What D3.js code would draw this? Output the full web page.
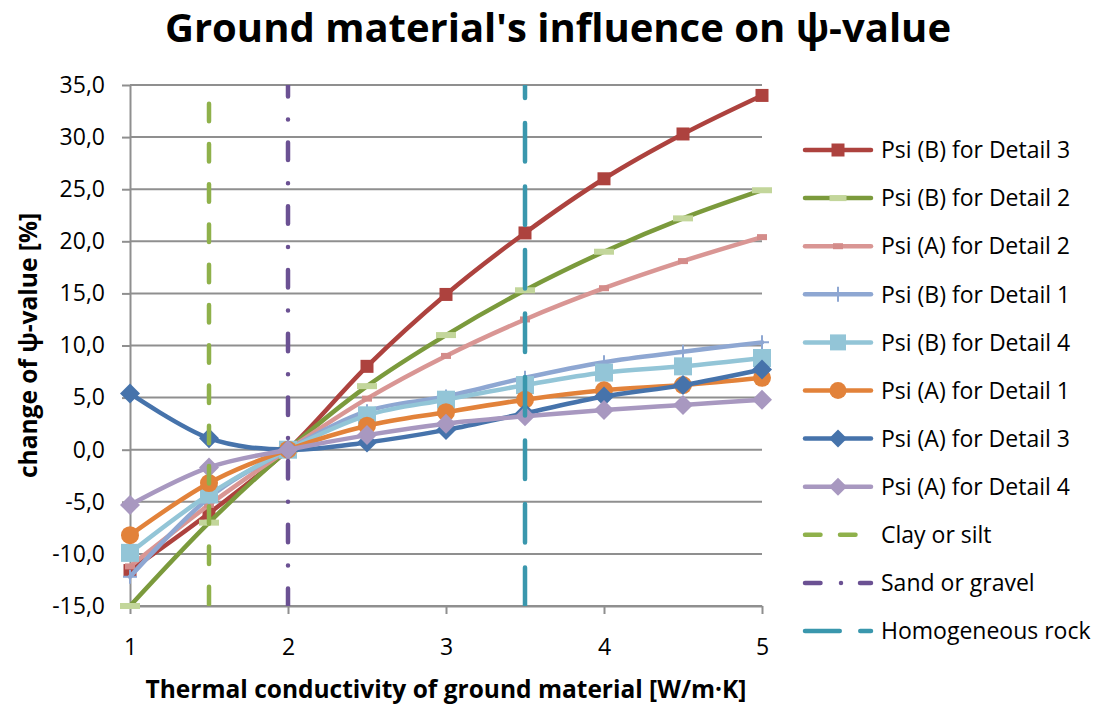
<!DOCTYPE html>
<html>
<head>
<meta charset="utf-8">
<script src="https://cdn.jsdelivr.net/npm/d3@7"></script>
<style>
  body { margin: 0; background: #ffffff; }
  svg { display: block; font-family: "Open Sans", Lato, sans-serif; }
</style>
</head>
<body>
<svg id="chart" width="1095" height="704"></svg>
<script>
// Thermal conductivity of the ground [W/m·K]
const conductivity = [1, 1.5, 2, 2.5, 3, 3.5, 4, 4.5, 5];

// Change of psi-value [%] relative to 2 W/m·K
const psiB3 = [-11.6, -6.1, 0, 8.0, 14.9, 20.8, 26.0, 30.3, 34.0];
const psiB2 = [-15.0, -7.0, 0, 6.1, 11.0, 15.3, 19.0, 22.2, 24.9];
const psiA2 = [-11.2, -5.3, 0, 4.9, 9.0, 12.5, 15.5, 18.1, 20.4];
const psiB1 = [-12.2, -4.6, 0, 3.7, 5.1, 6.9, 8.4, 9.4, 10.3];
const psiB4 = [-9.9, -4.3, 0, 3.3, 4.8, 6.2, 7.4, 8.0, 8.8];
const psiA1 = [-8.2, -3.2, 0, 2.3, 3.6, 4.8, 5.7, 6.2, 6.9];
const psiA3 = [5.4, 1.1, 0, 0.7, 1.9, 3.5, 5.1, 6.2, 7.7];
const psiA4 = [-5.3, -1.7, 0, 1.4, 2.5, 3.2, 3.8, 4.3, 4.8];

// Typical conductivity of ground materials (vertical markers)
const clayX = [1.5, 1.5];
const clayY = [33.2, -15];
const sandX = [2, 2];
const sandY = [-15, 35];
const rockX = [3.5, 3.5];
const rockY = [-15, 35];

const seriesNames = [
  "Psi (B) for Detail 3", "Psi (B) for Detail 2", "Psi (A) for Detail 2",
  "Psi (B) for Detail 1", "Psi (B) for Detail 4", "Psi (A) for Detail 1",
  "Psi (A) for Detail 3", "Psi (A) for Detail 4"
];
const materialNames = ["Clay or silt", "Sand or gravel", "Homogeneous rock"];

const yTickValues = [-15, -10, -5, 0, 5, 10, 15, 20, 25, 30, 35];
const xTickValues = [1, 2, 3, 4, 5];

const titleText = "Ground material's influence on \u03C8-value";
const xTitle = "Thermal conductivity of ground material [W/m\u00B7K]";
const yTitle = "change of \u03C8-value [%]";

// ---- styling ----
const seriesStyles = [
  { color: "#ad423e", marker: "square", size: 13, fill: "#ad423e" },
  { color: "#7b9a3c", marker: "bar", w: 20, h: 6, fill: "#c3d69b" },
  { color: "#d99694", marker: "bar", w: 10, h: 6, fill: "#d48c8a" },
  { color: "#8ea7d2", marker: "plus", size: 14, fill: "#8ea7d2" },
  { color: "#93c5d7", marker: "square", size: 18, fill: "#93c5d7" },
  { color: "#e2823a", marker: "circle", size: 18, fill: "#e2823a" },
  { color: "#4673ab", marker: "diamond", size: 20, fill: "#4673ab" },
  { color: "#a898c0", marker: "diamond", size: 20, fill: "#a898c0" }
];
const seriesValues = [psiB3, psiB2, psiA2, psiB1, psiB4, psiA1, psiA3, psiA4];

const materials = [
  { name: materialNames[0], xs: clayX, ys: clayY, color: "#8fb14b", dash: "17.5 22.75", legendDash: "15.5 19.5" },
  { name: materialNames[1], xs: sandX, ys: sandY, color: "#6b5193", dash: "17.5 23.1 0 23.1", legendDash: "15.5 20.5 0 19" },
  { name: materialNames[2], xs: rockX, ys: rockY, color: "#3a97ad", dash: "38.5 25", legendDash: "34.75 20.5" }
];

const plot = { left: 130, right: 762, top: 85, bottom: 606 };
const gridColor = "#8f8f8f";
const lineWidth = 4.5;
const font = "'Open Sans', Lato, sans-serif";
const labelSize = 23;

const svg = d3.select("#chart");

const x = d3.scaleLinear().domain([1, 5]).range([plot.left, plot.right]);
const y = d3.scaleLinear().domain([-15, 35]).range([plot.bottom, plot.top]);

const locale = d3.formatLocale({ decimal: ",", thousands: ".", grouping: [3], currency: ["", ""], minus: "-" });
const yFmt = locale.format(".1f");

// ---- title ----
svg.append("text")
  .attr("x", 558).attr("y", 42)
  .attr("text-anchor", "middle")
  .attr("font-weight", "bold")
  .attr("font-size", 40)
  .attr("fill", "#000")
  .text(titleText);

// ---- gridlines ----
svg.append("g")
  .selectAll("line")
  .data(yTickValues)
  .join("line")
  .attr("x1", plot.left).attr("x2", plot.right)
  .attr("y1", d => y(d)).attr("y2", d => y(d))
  .attr("stroke", gridColor).attr("stroke-width", 2);

// ---- axes ----
const yAxis = svg.append("g")
  .attr("transform", `translate(${plot.left},0)`)
  .call(d3.axisLeft(y).tickValues(yTickValues).tickSize(8).tickSizeOuter(0).tickPadding(17).tickFormat(yFmt));
const xAxis = svg.append("g")
  .attr("transform", `translate(0,${plot.bottom})`)
  .call(d3.axisBottom(x).tickValues(xTickValues).tickSize(8).tickSizeOuter(0).tickPadding(25).tickFormat(d3.format("d")));

[yAxis, xAxis].forEach(ax => {
  ax.select(".domain").attr("stroke", gridColor).attr("stroke-width", 2);
  ax.selectAll(".tick line").attr("stroke", gridColor).attr("stroke-width", 2);
  ax.selectAll(".tick text")
    .attr("fill", "#000")
    .attr("font-family", font)
    .attr("font-size", labelSize);
});

// ---- axis titles ----
svg.append("text")
  .attr("x", (plot.left + plot.right) / 2).attr("y", 698)
  .attr("text-anchor", "middle")
  .attr("font-weight", "bold").attr("font-size", 24.5)
  .text(xTitle);

svg.append("text")
  .attr("transform", `translate(37,${(plot.top + plot.bottom) / 2}) rotate(-90)`)
  .attr("text-anchor", "middle")
  .attr("font-weight", "bold").attr("font-size", 24.5)
  .text(yTitle);

// ---- markers ----
function drawMarker(sel, st) {
  if (st.marker === "square") {
    sel.append("rect")
      .attr("x", -st.size / 2).attr("y", -st.size / 2)
      .attr("width", st.size).attr("height", st.size)
      .attr("fill", st.fill);
  } else if (st.marker === "bar") {
    sel.append("rect")
      .attr("x", -st.w / 2).attr("y", -st.h / 2)
      .attr("width", st.w).attr("height", st.h)
      .attr("fill", st.fill);
  } else if (st.marker === "plus") {
    sel.append("path")
      .attr("d", `M${-st.size / 2},0H${st.size / 2}M0,${-st.size / 2}V${st.size / 2}`)
      .attr("stroke", st.fill).attr("stroke-width", 2).attr("fill", "none");
  } else if (st.marker === "circle") {
    sel.append("circle").attr("r", st.size / 2).attr("fill", st.fill);
  } else if (st.marker === "diamond") {
    const h = st.size / 2;
    sel.append("path")
      .attr("d", `M0,${-h}L${h},0L0,${h}L${-h},0Z`)
      .attr("fill", st.fill);
  }
}

// ---- data series ----
const line = d3.line()
  .x(d => x(d[0]))
  .y(d => y(d[1]))
  .curve(d3.curveCardinal);

const seriesLayer = svg.append("g");
seriesValues.forEach((vals, i) => {
  const st = seriesStyles[i];
  const pts = conductivity.map((c, k) => [c, vals[k]]);
  const g = seriesLayer.append("g");
  g.append("path")
    .attr("d", line(pts))
    .attr("fill", "none")
    .attr("stroke", st.color)
    .attr("stroke-width", lineWidth)
    .attr("stroke-linecap", "round")
    .attr("stroke-linejoin", "round");
  g.selectAll("g.m")
    .data(pts)
    .join("g")
    .attr("class", "m")
    .attr("transform", d => `translate(${x(d[0])},${y(d[1])})`)
    .each(function () { drawMarker(d3.select(this), st); });
});

// ---- ground material markers ----
svg.append("defs").append("clipPath").attr("id", "plotClip")
  .append("rect")
  .attr("x", plot.left - 10).attr("y", plot.top)
  .attr("width", plot.right - plot.left + 20).attr("height", plot.bottom - plot.top);

const matLayer = svg.append("g").attr("clip-path", "url(#plotClip)");
const straight = d3.line().x(d => x(d[0])).y(d => y(d[1]));
materials.forEach(m => {
  matLayer.append("path")
    .attr("d", straight(m.xs.map((v, k) => [v, m.ys[k]])))
    .attr("fill", "none")
    .attr("stroke", m.color)
    .attr("stroke-width", lineWidth)
    .attr("stroke-linecap", "round")
    .attr("stroke-dasharray", m.dash);
});

// ---- legend ----
const legend = svg.append("g");
const legendTop = 150, legendStep = 48.1;
const lx0 = 805, lx1 = 871, lxText = 881;

seriesNames.forEach((name, i) => {
  const st = seriesStyles[i];
  const row = legend.append("g").attr("transform", `translate(0,${legendTop + i * legendStep})`);
  row.append("line")
    .attr("x1", lx0).attr("x2", lx1)
    .attr("stroke", st.color).attr("stroke-width", lineWidth)
    .attr("stroke-linecap", "round");
  const mk = row.append("g").attr("transform", `translate(${(lx0 + lx1) / 2},0)`);
  const legSt = Object.assign({}, st);
  if (st.marker === "square") legSt.size = Math.min(st.size, 16);
  if (st.marker === "bar") { legSt.w = Math.min(st.w, 17); }
  if (st.marker === "circle") legSt.size = 17;
  if (st.marker === "diamond") legSt.size = 18;
  if (st.marker === "plus") legSt.size = 15;
  drawMarker(mk, legSt);
  row.append("text")
    .attr("x", lxText).attr("dy", "0.36em")
    .attr("font-size", labelSize).attr("fill", "#000")
    .text(name);
});

materials.forEach((m, j) => {
  const i = seriesNames.length + j;
  const row = legend.append("g").attr("transform", `translate(0,${legendTop + i * legendStep})`);
  row.append("line")
    .attr("x1", lx0).attr("x2", lx1)
    .attr("stroke", m.color).attr("stroke-width", lineWidth)
    .attr("stroke-linecap", "round")
    .attr("stroke-dasharray", m.legendDash);
  row.append("text")
    .attr("x", lxText).attr("dy", "0.36em")
    .attr("font-size", labelSize).attr("fill", "#000")
    .text(m.name);
});
</script>
</body>
</html>
